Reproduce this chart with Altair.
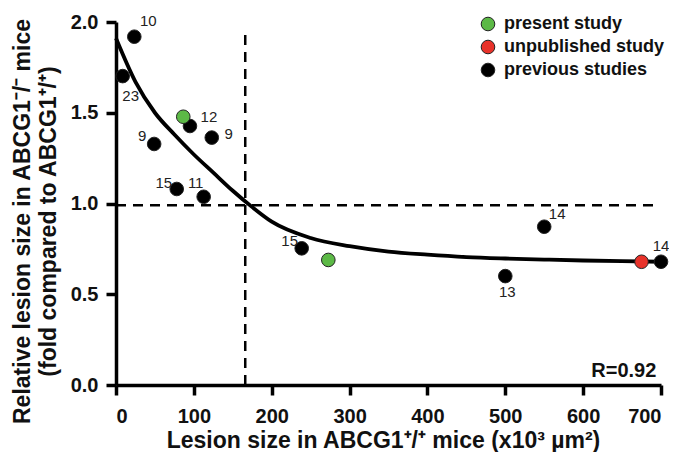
import altair as alt
import pandas as pd

# ---- data ----
study_x = [23.5, 8.6, 95, 123, 49, 78, 112.6, 238.5, 550, 500, 700, 86.4, 272.7, 675]
study_y = [1.919, 1.702, 1.427, 1.363, 1.328, 1.08, 1.037, 0.753, 0.872, 0.60, 0.679, 1.478, 0.689, 0.679]
study_group = ["previous studies"] * 11 + ["present study", "present study", "unpublished study"]
study_label = ["10", "23", "12", "9", "9", "15", "11", "15", "14", "13", "14", "", "", ""]

curve_x = [0, 25, 50, 75, 100, 125, 150, 175, 200, 250, 300, 350, 400, 450, 500, 550, 600, 650, 700]
curve_y = [1.91, 1.67, 1.50, 1.38, 1.27, 1.17, 1.07, 0.98, 0.90, 0.81, 0.765, 0.735, 0.718,
           0.705, 0.697, 0.691, 0.686, 0.682, 0.679]

cut_x = 166        # vertical dashed line
cut_top = 1.96
ref_y = 0.99       # horizontal dashed line
ref_right = 692

groups = ["present study", "unpublished study", "previous studies"]
group_colors = ["#5cb946", "#e8322a", "#000000"]

# label placement (pixel offsets), kept apart from data
label_offsets = {
    0: (14, -16), 1: (8, 20), 2: (19, -9), 3: (17, -4), 4: (-12, -8), 5: (-13, -6),
    6: (-8, -14), 7: (-12, -7), 8: (13, -13), 9: (2, 16), 10: (0, -16),
}

FONT = "Liberation Sans"

pts = pd.DataFrame({"x": study_x, "y": study_y, "group": study_group, "label": study_label})
curve = pd.DataFrame({"x": curve_x, "y": curve_y})

xscale = alt.Scale(domain=[0, 700], nice=False, zero=False)
yscale = alt.Scale(domain=[0, 2], nice=False, zero=False)

xaxis = alt.Axis(values=[0, 100, 200, 300, 400, 500, 600, 700], format="d",
                 title="Lesion size in ABCG1⁺/⁺ mice (x10³ µm²)",
                 titleX=267, titleY=62, titleBaseline="alphabetic", titleAlign="center",
                 labelPadding=11)
yaxis = alt.Axis(values=[0, 0.5, 1.0, 1.5, 2.0], format=".1f",
                 title=["Relative lesion size in ABCG1⁻/⁻ mice", "(fold compared to ABCG1⁺/⁺)"],
                 titleX=-87, titleY=199, titleBaseline="alphabetic", titleAlign="center",
                 titleAngle=-90, titleLineHeight=26, labelPadding=8)

vline = alt.Chart(pd.DataFrame({"x": [cut_x], "y": [0], "y2": [cut_top]})).mark_rule(
    color="black", strokeWidth=2.5, strokeDash=[10, 7]
).encode(x=alt.X("x:Q", scale=xscale, axis=xaxis), y=alt.Y("y:Q", scale=yscale, axis=yaxis), y2="y2:Q")

hline = alt.Chart(pd.DataFrame({"x": [0], "x2": [ref_right], "y": [ref_y]})).mark_rule(
    color="black", strokeWidth=2.5, strokeDash=[10, 7]
).encode(x=alt.X("x:Q", scale=xscale), x2="x2:Q", y=alt.Y("y:Q", scale=yscale))

line = alt.Chart(curve).mark_line(color="black", strokeWidth=3.8, interpolate="monotone").encode(
    x=alt.X("x:Q", scale=xscale), y=alt.Y("y:Q", scale=yscale)
)

points = alt.Chart(pts).mark_circle(size=185, opacity=1, stroke="#222", strokeWidth=1).encode(
    x=alt.X("x:Q", scale=xscale),
    y=alt.Y("y:Q", scale=yscale),
    color=alt.Color("group:N", scale=alt.Scale(domain=groups, range=group_colors),
                    legend=alt.Legend(title=None, orient="none", legendX=363, legendY=-7,
                                      symbolType="circle", symbolSize=185,
                                      symbolStrokeColor="#222", symbolStrokeWidth=1,
                                      symbolOpacity=1,
                                      labelFont=FONT, labelFontSize=18, labelFontWeight="bold",
                                      labelColor="#111", labelOffset=7, rowPadding=5, padding=0)),
)

label_layers = []
for i, (dx, dy) in label_offsets.items():
    label_layers.append(
        alt.Chart(pts.iloc[[i]]).mark_text(font=FONT, fontSize=15, color="#222", dx=dx, dy=dy,
                                           align="center", baseline="middle").encode(
            x=alt.X("x:Q", scale=xscale), y=alt.Y("y:Q", scale=yscale), text="label:N")
    )

rtext = alt.Chart(pd.DataFrame({"x": [694], "y": [0.044], "t": ["R=0.92"]})).mark_text(
    font=FONT, fontSize=20, fontWeight="bold", color="#111", align="right", baseline="alphabetic"
).encode(x=alt.X("x:Q", scale=xscale), y=alt.Y("y:Q", scale=yscale), text="t:N")

chart = alt.layer(vline, hline, line, points, *label_layers, rtext).properties(
    width=545, height=363,
    autosize=alt.AutoSizeParams(type="none"),
    padding={"left": 108, "top": 14, "right": 8, "bottom": 67},
).configure_view(stroke=None).configure_axis(
    domainColor="black", domainWidth=3.5, tickColor="black", tickWidth=3.5, tickSize=10,
    grid=False, labelFont=FONT, labelFontSize=20, labelFontWeight="bold", labelColor="#111",
    titleFont=FONT, titleFontSize=23, titleFontWeight="bold", titleColor="#111",
)

chart.save("out.html", embed_options={"renderer": "svg", "actions": False})
